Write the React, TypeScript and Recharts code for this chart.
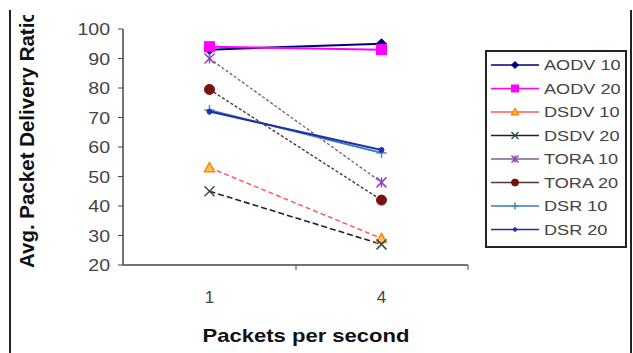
import React from 'react';
import { LineChart, Line, XAxis, YAxis, Legend } from 'recharts';

const categories = ['1', '4'];
const yTicks = [20, 30, 40, 50, 60, 70, 80, 90, 100];
const seriesNames = ['AODV 10', 'AODV 20', 'DSDV 10', 'DSDV 20', 'TORA 10', 'TORA 20', 'DSR 10', 'DSR 20'];
const aodv10 = [93, 95];
const aodv20 = [94, 93];
const dsdv10 = [53, 29];
const dsdv20 = [45, 27];
const tora10 = [90, 48];
const tora20 = [79.5, 42];
const dsr10 = [72.5, 58];
const dsr20 = [72, 59];

const keys = ['aodv10', 'aodv20', 'dsdv10', 'dsdv20', 'tora10', 'tora20', 'dsr10', 'dsr20'];
const values = [aodv10, aodv20, dsdv10, dsdv20, tora10, tora20, dsr10, dsr20];

const data = categories.map((c, i) => {
  const row: any = { pps: c };
  keys.forEach((k, j) => {
    row[k] = values[j][i];
  });
  return row;
});

type Style = { line: string; width: number; dash?: string; shape: string; mark: string; fill: string };
const styles: Style[] = [
  { line: '#000080', width: 2, shape: 'diamond', mark: '#000080', fill: '#000080' },
  { line: '#FF00FF', width: 2, shape: 'square', mark: '#FF00FF', fill: '#FF00FF' },
  { line: '#FF5a5a', width: 1.5, dash: '5 3', shape: 'triangle', mark: '#FF8800', fill: '#FFC060' },
  { line: '#222222', width: 1.6, dash: '6 3', shape: 'x', mark: '#2f5050', fill: 'none' },
  { line: '#806090', width: 1.4, dash: '3 2', shape: 'star', mark: '#9040C0', fill: 'none' },
  { line: '#553333', width: 1.4, dash: '3 2', shape: 'circle', mark: '#7a1010', fill: '#7a1010' },
  { line: '#3a78c0', width: 2, shape: 'plus', mark: '#3a8ac0', fill: 'none' },
  { line: '#2030a0', width: 2, shape: 'dot', mark: '#2030c0', fill: '#2030c0' },
];

const Marker = ({ shape, cx, cy, s, color, fill }: any) => {
  switch (shape) {
    case 'diamond':
      return <polygon points={`${cx},${cy - s} ${cx + s},${cy} ${cx},${cy + s} ${cx - s},${cy}`} fill={fill} stroke={color} />;
    case 'square':
      return <rect x={cx - s} y={cy - s} width={2 * s} height={2 * s} fill={fill} stroke={color} />;
    case 'triangle':
      return <polygon points={`${cx},${cy - s} ${cx + s},${cy + s * 0.8} ${cx - s},${cy + s * 0.8}`} fill={fill} stroke={color} strokeWidth={1.5} />;
    case 'x':
      return (
        <g stroke={color} strokeWidth={1.5}>
          <line x1={cx - s} y1={cy - s} x2={cx + s} y2={cy + s} />
          <line x1={cx - s} y1={cy + s} x2={cx + s} y2={cy - s} />
        </g>
      );
    case 'star':
      return (
        <g stroke={color} strokeWidth={1.5}>
          <line x1={cx - s} y1={cy - s} x2={cx + s} y2={cy + s} />
          <line x1={cx - s} y1={cy + s} x2={cx + s} y2={cy - s} />
          <line x1={cx} y1={cy - s} x2={cx} y2={cy + s} />
        </g>
      );
    case 'circle':
      return <circle cx={cx} cy={cy} r={s} fill={fill} stroke={color} />;
    case 'plus':
      return (
        <g stroke={color} strokeWidth={1.5}>
          <line x1={cx - s} y1={cy} x2={cx + s} y2={cy} />
          <line x1={cx} y1={cy - s} x2={cx} y2={cy + s} />
        </g>
      );
    case 'dot':
      return <circle cx={cx} cy={cy} r={s * 0.5} fill={fill} stroke={color} />;
    default:
      return null;
  }
};

const FONT = '"Liberation Sans", Arial, sans-serif';
const HALF_BAND = 86.5;

const YTick = ({ x, y, payload }: any) => (
  <text
    transform={`translate(${x},${y}) scale(1.15,1)`}
    textAnchor="end"
    dy="0.36em"
    fontSize={17}
    fill="#444"
    fontFamily={FONT}
  >
    {payload.value}
  </text>
);

const XTick = ({ x, y, payload }: any) => (
  <g>
    <line x1={x + HALF_BAND} y1={y} x2={x + HALF_BAND} y2={y + 5} stroke="#444" />
    <text x={x} y={y + 38} textAnchor="middle" fontSize={17} fill="#444" fontFamily={FONT}>
      {payload.value}
    </text>
  </g>
);

const XLabel = () => (
  <text x={306} y={342} textAnchor="middle" fontSize={19} fontWeight="bold" fill="#111" fontFamily={FONT} textLength={207} lengthAdjust="spacingAndGlyphs">
    Packets per second
  </text>
);

const YLabel = () => (
  <g>
    <defs>
      <clipPath id="ylabclip">
        <rect x={0} y={15} width={60} height={330} />
      </clipPath>
    </defs>
    <g clipPath="url(#ylabclip)">
      <text
        x={34}
        y={268}
        transform="rotate(-90 34 268)"
        textAnchor="start"
        fontSize={20.5}
        fontWeight="bold"
        fill="#111"
        fontFamily={FONT}
      >
        Avg. Packet Delivery Ratio
      </text>
    </g>
  </g>
);

const LegendBox = () => (
  <div style={{ width: 142, height: 198, border: '2px solid #222', boxSizing: 'border-box', background: '#fff' }}>
    <svg width={138} height={194} style={{ display: 'block' }}>
      {seriesNames.map((name, i) => {
        const st = styles[i];
        const cy = 13 + i * 23.5;
        return (
          <g key={name}>
            <line x1={4} y1={cy} x2={52} y2={cy} stroke={st.line} strokeWidth={1.3} />
            <Marker shape={st.shape} cx={28} cy={cy} s={3.5} color={st.mark} fill={st.fill} />
            <text transform={`translate(57,${cy + 5}) scale(1.25,1)`} fontSize={14.5} fill="#444" fontFamily={FONT}>
              {name}
            </text>
          </g>
        );
      })}
    </svg>
  </div>
);

export default function App() {
  return (
    <div style={{ position: 'absolute', left: 0, top: 0, width: 633, height: 353, background: '#fff' }}>
      <div
        style={{
          position: 'absolute',
          left: 9,
          top: 10,
          width: 619,
          height: 343,
          borderLeft: '2px solid #222',
          borderRight: '2px solid #222',
        }}
      />
      <LineChart width={633} height={353} data={data} margin={{ top: 29, right: 165, bottom: 48, left: 63 }}>
        <XAxis
          dataKey="pps"
          type="category"
          padding={{ left: HALF_BAND, right: HALF_BAND }}
          tick={<XTick />}
          tickLine={false}
          tickSize={0}
          tickMargin={0}
          axisLine={{ stroke: '#444', strokeWidth: 1.5 }}
          height={40}
          label={{ content: <XLabel /> }}
        />
        <YAxis
          domain={[20, 100]}
          ticks={yTicks}
          interval={0}
          width={60}
          tick={<YTick />}
          tickSize={5}
          tickMargin={8}
          tickLine={{ stroke: '#444' }}
          axisLine={{ stroke: '#444', strokeWidth: 1.5 }}
          label={{ content: <YLabel /> }}
        />
        <Legend layout="horizontal" verticalAlign="middle" align="center" wrapperStyle={{ left: 485, top: 50, width: 142, height: 198 }} content={<LegendBox />} />
        {keys.map((k, j) => {
          const st = styles[j];
          return (
            <Line
              key={k}
              dataKey={k}
              name={seriesNames[j]}
              stroke={st.line}
              strokeWidth={st.width}
              strokeDasharray={st.dash}
              isAnimationActive={false}
              dot={(p: any) => (
                <Marker key={`${k}-${p.index}`} shape={st.shape} cx={p.cx} cy={p.cy} s={5} color={st.mark} fill={st.fill} />
              )}
              activeDot={false}
            />
          );
        })}
      </LineChart>
    </div>
  );
}
